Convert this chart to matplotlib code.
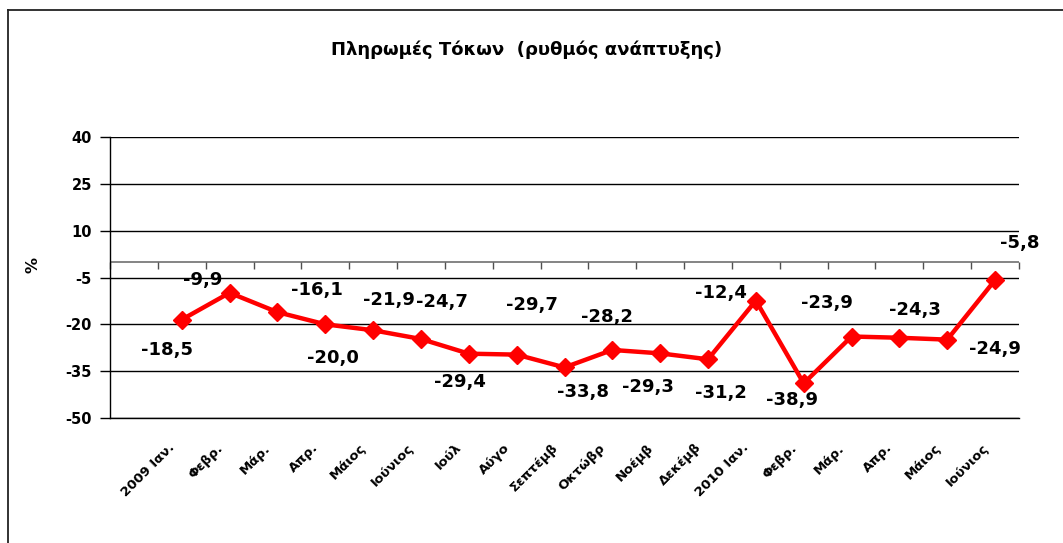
import numpy as np
import matplotlib
matplotlib.use("Agg")
import matplotlib.pyplot as plt
import matplotlib.transforms as mtransforms
from matplotlib.lines import Line2D

# Monthly growth rate of interest payments (%)
months = ["", "2009 Ιαν.", "Φεβρ.", "Μάρ.", "Απρ.", "Μάιος", "Ιούνιος", "Ιούλ",
          "Αύγο", "Σεπτέμβ", "Οκτώβρ", "Νοέμβ", "Δεκέμβ", "2010 Ιαν.", "Φεβρ.",
          "Μάρ.", "Απρ.", "Μάιος", "Ιούνιος"]
growth = [None, -18.5, -9.9, -16.1, -20.0, -21.9, -24.7, -29.4, -29.7, -33.8,
          -28.2, -29.3, -31.2, -12.4, -38.9, -23.9, -24.3, -24.9, -5.8]
y_ticks = [40, 25, 10, -5, -20, -35, -50]

# label placement (pixels from the point, like the Excel original)
label_dx = [-15, -27, 39, 8, 16, 21, -9, 15, 19, -5, -12, 13, -35, -12, -25, 16, 48, 25]
label_dy = [-30, 13, 22, -34, 30, 37, -28, 50, -25, 33, -34, -34, 8, -17, 34, 28, -9, 37]

W, H = 1063, 543
fig = plt.figure(figsize=(W / 100, H / 100), dpi=100)
ax = fig.add_axes([110 / W, 1 - 418 / H, 909 / W, 281 / H])

x = np.arange(len(months))
vals = np.array([np.nan if v is None else v for v in growth])

ax.set_xlim(-0.5, len(months) - 0.5)
ax.set_ylim(-50, 40)
ax.set_yticks(y_ticks)
ax.set_yticklabels([str(t) for t in y_ticks])
for t in y_ticks:
    ax.axhline(t, color="black", lw=1.0, zorder=1)

# category axis crossing at zero, with ticks between months
ax.axhline(0, color="#707070", lw=1.2, zorder=1)
bounds = np.arange(len(months) + 1) - 0.5
ax.plot(bounds, np.zeros_like(bounds), ls="", marker=3, ms=5,
        mew=1.0, color="#505050", zorder=1, clip_on=False)

ax.plot(x, vals, color="#ff0000", lw=3.2, marker="D", ms=9.5,
        mfc="#ff0000", mec="#ff0000", zorder=3)

pts = [(xi, v) for xi, v in zip(x, growth) if v is not None]
for (xi, v), dx, dy in zip(pts, label_dx, label_dy):
    ax.annotate(f"{v:.1f}".replace(".", ","), (xi, v), xytext=(dx, dy),
                textcoords="offset pixels", ha="center", va="center",
                fontsize=13, fontweight="bold", color="black")

ax.set_xticks(x)
ax.set_xticklabels(months, rotation=45, ha="right", va="center",
                   rotation_mode="anchor", fontsize=9.5, fontweight="bold")
ax.tick_params(axis="x", length=0, pad=20)
shift = mtransforms.ScaledTranslation(-9 / 100, 0, fig.dpi_scale_trans)
for lab in ax.get_xticklabels():
    lab.set_transform(lab.get_transform() + shift)
ax.tick_params(axis="y", length=7, width=1, direction="out", pad=6,
               labelsize=10.5, labelcolor="black")
for lab in ax.get_yticklabels():
    lab.set_fontweight("bold")

for s in ["top", "right"]:
    ax.spines[s].set_visible(False)
ax.spines["left"].set_linewidth(1.0)
ax.spines["bottom"].set_linewidth(1.0)

fig.text(527 / W, 1 - 50 / H, "Πληρωμές Τόκων  (ρυθμός ανάπτυξης)",
         ha="center", va="center", fontsize=13, fontweight="bold")
fig.text(33 / W, 1 - 265 / H, "%", rotation=90, ha="center", va="center",
         fontsize=11.5, fontweight="bold")

# outer chart border (only left and top visible in the crop)
fig.add_artist(Line2D([8 / W, 8 / W], [0, 1 - 10 / H], color="#222222", lw=1.3))
fig.add_artist(Line2D([8 / W, 1], [1 - 10 / H, 1 - 10 / H], color="#222222", lw=1.3))

fig.savefig("out.png", dpi=100, facecolor="white")
